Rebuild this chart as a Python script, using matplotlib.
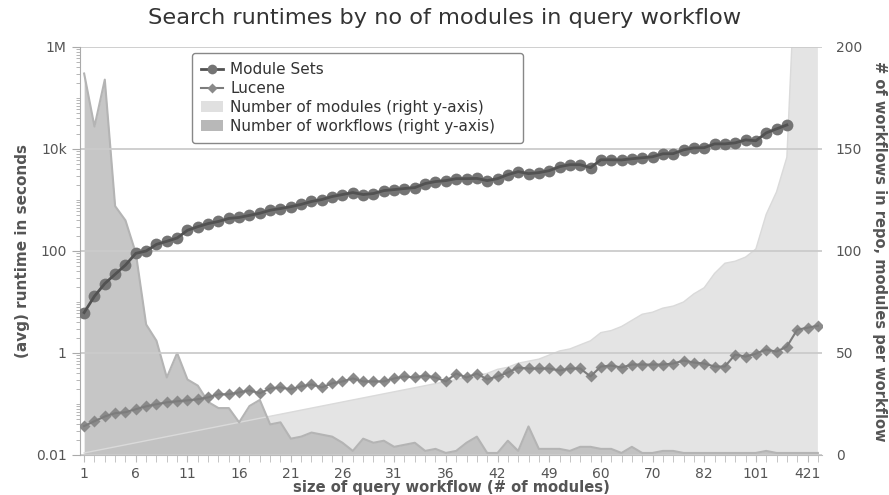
import numpy as np
import matplotlib.pyplot as plt
from matplotlib.lines import Line2D
from matplotlib.patches import Patch
from matplotlib.ticker import FixedLocator, FixedFormatter, LogLocator, NullFormatter

# query workflow sizes (# of modules), one category each
sizes = list(range(1, 37)) + [37, 38, 39, 40, 42,
                              43, 45, 46, 47, 49,
                              51, 52, 54, 56, 60,
                              61, 63, 66, 69, 70,
                              72, 73, 75, 79, 82,
                              89, 94, 95, 97, 101,
                              118, 129, 146, 260, 421,
                              560]

# avg runtime in seconds (log axis)
module_sets = [6.2, 13, 23, 35, 53, 90, 100, 135, 155, 180,
               255, 300, 345, 380, 435, 455, 500, 550, 630, 680,
               740, 820, 935, 1020, 1170, 1280, 1400, 1280, 1340, 1530,
               1600, 1680, 1750, 2100, 2300, 2400, 2620, 2620, 2650, 2400,
               2620, 3140, 3600, 3290, 3440, 3760, 4500, 4920, 4920, 4300,
               6150, 6150, 6100, 6440, 6730, 7040, 8060, 8100, 9640, 10500,
               10600, 12600, 12600, 13200, 15100, 14500, 20700, 24800, 29600]

lucene = [0.037, 0.046, 0.057, 0.066, 0.069, 0.079, 0.090, 0.099, 0.108, 0.113,
          0.118, 0.124, 0.135, 0.155, 0.155, 0.169, 0.185, 0.162, 0.202, 0.212,
          0.194, 0.221, 0.242, 0.212, 0.254, 0.277, 0.317, 0.277, 0.277, 0.277,
          0.317, 0.347, 0.331, 0.362, 0.331, 0.277, 0.396, 0.331, 0.396, 0.303,
          0.347, 0.415, 0.519, 0.497, 0.497, 0.497, 0.454, 0.497, 0.497, 0.347,
          0.543, 0.568, 0.519, 0.594, 0.594, 0.594, 0.594, 0.621, 0.711, 0.650,
          0.621, 0.543, 0.543, 0.931, 0.851, 0.973, 1.165, 1.064, 1.333, 2.86,
          3.13, 3.42]

# right axis: number of workflows in repo with that size
workflows = [187, 161, 184, 122, 115, 99, 64, 56, 38, 50,
             37, 34, 26, 23, 23, 16, 24, 27, 15, 16,
             8, 9, 11, 10, 9, 6, 2, 8, 6, 7,
             4, 5, 6, 2, 3, 1, 2, 6, 9, 1,
             1, 7, 2, 14, 3, 3, 3, 2, 4, 4,
             3, 3, 1, 4, 1, 1, 2, 2, 1, 1,
             1, 1, 1, 1, 1, 1, 2, 1, 1, 1,
             1, 1]
modules = sizes

x = np.arange(len(sizes))

fig = plt.figure(figsize=(8.89, 4.95), dpi=100)
ax = fig.add_axes([80 / 889, 40 / 495, 742 / 889, 408 / 495])
ax2 = ax.twinx()

# areas (right axis)
ax.fill_between(x, 0, modules, color='#e4e4e4', lw=0)
ax.plot(x, modules, color='#dadada', lw=1)
ax.fill_between(x, 0, workflows, color='#bcbcbc', alpha=0.85, lw=0)
ax.plot(x, workflows, color='#b4b4b4', lw=1.5)
ax.set_ylim(0, 200)
ax.set_xlim(-0.4, 71.4)

# runtimes (left log axis)
ax2.set_yscale('log')
ax2.set_ylim(0.01, 1e6)
ax2.plot(x[:len(module_sets)], module_sets, ls='none', marker='o', ms=8.5,
         mfc='#747474', mec='none', zorder=3)
ax2.plot(x[:len(module_sets)], module_sets, color='#525252', lw=2, zorder=4)
ax2.plot(x, lucene, ls='none', marker='D', ms=6, mfc='#8a8a8a', mec='none', zorder=3)
ax2.plot(x, lucene, color='#7c7c7c', lw=1.5, zorder=4)

ax2.set_axisbelow(True)
ax2.yaxis.grid(True, which='major', color='#cbcbcb', lw=1.3)

# swap sides: log axis on the left, counts on the right
ax.yaxis.tick_right()
ax.yaxis.set_label_position('right')
ax2.yaxis.tick_left()
ax2.yaxis.set_label_position('left')

for a in (ax, ax2):
    for s in ('top', 'right', 'left', 'bottom'):
        a.spines[s].set_visible(False)
ax2.spines['left'].set_visible(True)
ax2.spines['left'].set_color('#aaaaaa')
ax.spines['bottom'].set_visible(True)
ax.spines['bottom'].set_color('#bbbbbb')

ax2.yaxis.set_major_locator(FixedLocator([0.01, 1, 100, 1e4, 1e6]))
ax2.yaxis.set_major_formatter(FixedFormatter(['0.01', '1', '100', '10k', '1M']))
ax2.yaxis.set_minor_locator(LogLocator(base=10, subs=np.arange(1, 10), numticks=30))
ax2.yaxis.set_minor_formatter(NullFormatter())
ax2.tick_params(axis='y', which='major', length=6, color='#aaaaaa', labelcolor='#555555', labelsize=10)
ax2.tick_params(axis='y', which='minor', length=3, color='#aaaaaa')

ax.set_yticks([0, 50, 100, 150, 200])
ax.tick_params(axis='y', length=0, pad=10, labelcolor='#555555', labelsize=10)

ax.set_xticks(x[::5])
ax.set_xticklabels([str(s) for s in sizes[::5]])
ax.set_xticks(x, minor=True)
ax.tick_params(axis='x', which='both', length=5, color='#bbbbbb', labelcolor='#555555', labelsize=10)

ax2.set_ylabel('(avg) runtime in seconds', fontweight='bold', color='#555555', fontsize=11)
ax2.yaxis.label.set_va('center')
ax2.yaxis.set_label_coords(-0.078, 0.5)
ax.set_ylabel('# of workflows in repo, modules per workflow', rotation=270,
              fontweight='bold', color='#555555', fontsize=10.5)
ax.yaxis.label.set_va('center')
ax.yaxis.set_label_coords(1.078, 0.5)
ax.set_xlabel('size of query workflow (# of modules)', fontweight='bold',
              color='#555555', fontsize=10.6)
ax.xaxis.label.set_va('center')
ax.xaxis.set_label_coords(0.5, -0.08)

fig.text(0.5, 1 - 18 / 495, 'Search runtimes by no of modules in query workflow',
         ha='center', va='center', fontsize=16.2, color='#333333')

handles = [
    Line2D([], [], color='#525252', lw=2, marker='o', ms=7, mfc='#747474', mec='none'),
    Line2D([], [], color='#7c7c7c', lw=1.5, marker='D', ms=5, mfc='#8a8a8a', mec='none'),
    Patch(fc='#e0e0e0', ec='none'),
    Patch(fc='#b8b8b8', ec='none'),
]
labels = ['Module Sets', 'Lucene', 'Number of modules (right y-axis)',
          'Number of workflows (right y-axis)']
leg = ax2.legend(handles, labels, loc='upper left', mode='expand',
                 bbox_to_anchor=(0.151, 0.5, 0.446, 0.485), borderaxespad=0,
                 fontsize=11, fancybox=True, framealpha=1, edgecolor='#888888',
                 labelspacing=0.25, handlelength=1.4, handletextpad=0.5, borderpad=0.6)
leg.get_frame().set_linewidth(1.0)
for t in leg.get_texts():
    t.set_color('#333333')

fig.savefig('out.png', dpi=100)
